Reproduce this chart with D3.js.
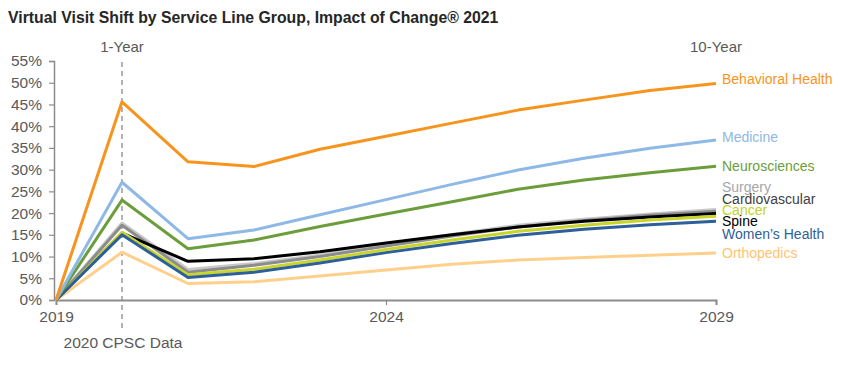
<!DOCTYPE html>
<html>
<head>
<meta charset="utf-8">
<script src="https://cdn.jsdelivr.net/npm/d3@7"></script>
<style>
  body { margin: 0; background: #fff; }
  text { font-family: "Liberation Sans", Arial, sans-serif; }
</style>
</head>
<body>
<svg id="chart"></svg>
<script>
var years = [2019, 2020, 2021, 2022, 2023, 2024, 2025, 2026, 2027, 2028, 2029];

var behavioral = [0, 45.6, 31.8, 30.7, 34.7, 37.7, 40.7, 43.7, 46.0, 48.2, 49.8];
var medicine   = [0, 27.1, 14.1, 16.1, 19.6, 23.1, 26.6, 29.9, 32.6, 34.9, 36.8];
var neuro      = [0, 23.0, 11.8, 13.8, 16.9, 19.8, 22.6, 25.5, 27.6, 29.3, 30.8];
var surgery    = [0, 17.7, 7.0, 8.4, 10.3, 12.8, 15.1, 17.2, 18.6, 19.8, 20.8];
var cardio     = [0, 17.2, 6.4, 8.0, 10.0, 12.4, 14.7, 16.8, 18.3, 19.5, 20.4];
var cancer     = [0, 15.6, 5.8, 7.1, 9.2, 11.6, 13.8, 15.8, 17.2, 18.4, 19.3];
var spine      = [0, 15.4, 8.9, 9.5, 11.1, 13.1, 15.0, 16.8, 18.1, 19.1, 19.9];
var womens     = [0, 15.0, 5.2, 6.4, 8.5, 10.9, 13.0, 14.9, 16.3, 17.3, 18.1];
var ortho      = [0, 11.0, 3.8, 4.2, 5.5, 6.9, 8.2, 9.2, 9.8, 10.3, 10.8];

var yTicks = [0, 5, 10, 15, 20, 25, 30, 35, 40, 45, 50, 55];
var xTicks = [2019, 2024, 2029];

// drawing order (bottom first)
var series = [
    { name: "Orthopedics",     values: ortho,      color: "#ffd08c", label: "#ffc374", nudge: 0 },
    { name: "Surgery",         values: surgery,    color: "#c8c8c8", label: "#a6a6a6", nudge: -23 },
    { name: "Cardiovascular",  values: cardio,     color: "#8c8c8c", label: "#404040", nudge: -12 },
    { name: "Spine",           values: spine,      color: "#000000", label: "#000000", nudge: 8 },
    { name: "Cancer",          values: cancer,     color: "#c9d52a", label: "#c4d31c", nudge: -6 },
    { name: "Women\u2019s Health", values: womens, color: "#2d5f9a", label: "#2d5f9a", nudge: 13 },
    { name: "Neurosciences",   values: neuro,      color: "#6b9e3a", label: "#6b9e3a", nudge: 0 },
    { name: "Medicine",        values: medicine,   color: "#8eb8e5", label: "#8eb8e5", nudge: -3 },
    { name: "Behavioral Health", values: behavioral, color: "#f7941d", label: "#f7941d", nudge: -4 }
];

var width = 867, height = 367;
var svg = d3.select('#chart')
    .attr('width', width)
    .attr('height', height);

var x = d3.scaleLinear().domain([2019, 2029]).range([56, 716]);
var y = d3.scaleLinear().domain([0, 55]).range([300, 61]);

svg.append('text')
    .attr('x', 8)
    .attr('y', 23)
    .attr('font-size', '15.8px')
    .attr('font-weight', 'bold')
    .attr('fill', '#262626')
    .text('Virtual Visit Shift by Service Line Group, Impact of Change\u00AE 2021');

// dashed 1-year marker
svg.append('line')
    .attr('x1', x(2020)).attr('x2', x(2020))
    .attr('y1', 62).attr('y2', 331)
    .attr('stroke', '#808080')
    .attr('stroke-width', 1.2)
    .attr('stroke-dasharray', '5,4');

svg.append('text')
    .attr('x', x(2020)).attr('y', 52)
    .attr('text-anchor', 'middle')
    .attr('font-size', '15px')
    .attr('fill', '#595959')
    .text('1-Year');

svg.append('text')
    .attr('x', x(2029)).attr('y', 52)
    .attr('text-anchor', 'middle')
    .attr('font-size', '15px')
    .attr('fill', '#595959')
    .text('10-Year');

svg.append('text')
    .attr('x', x(2020) + 1).attr('y', 348)
    .attr('text-anchor', 'middle')
    .attr('font-size', '15.5px')
    .attr('fill', '#595959')
    .text('2020 CPSC Data');

// axes
var yAxis = svg.append('g')
    .attr('transform', 'translate(' + (x(2019) - 2) + ',0)')
    .call(d3.axisLeft(y).tickValues(yTicks).tickSize(5).tickPadding(7).tickFormat(d => d + '%'));

var xAxis = svg.append('g')
    .attr('transform', 'translate(0,' + y(0) + ')')
    .call(d3.axisBottom(x).tickValues(xTicks).tickSize(5).tickPadding(6).tickFormat(d3.format('d')));

[yAxis, xAxis].forEach(g => {
    g.selectAll('path').attr('stroke', '#8c8c8c').attr('stroke-width', 1.5);
    g.selectAll('line').attr('stroke', '#8c8c8c').attr('stroke-width', 1.2);
    g.selectAll('text')
        .attr('font-size', '15.5px')
        .attr('font-family', '"Liberation Sans", Arial, sans-serif')
        .attr('fill', '#595959');
});
xAxis.select('path').attr('stroke-width', 2);

var line = d3.line()
    .x((d, i) => x(years[i]))
    .y(d => y(d));

svg.selectAll('path.series')
    .data(series)
    .enter()
    .append('path')
    .attr('class', 'series')
    .attr('d', d => line(d.values))
    .attr('fill', 'none')
    .attr('stroke', d => d.color)
    .attr('stroke-width', 3)
    .attr('stroke-linejoin', 'round');

svg.selectAll('text.label')
    .data(series)
    .enter()
    .append('text')
    .attr('class', 'label')
    .attr('x', x(2029) + 6)
    .attr('y', d => y(d.values[d.values.length - 1]) + d.nudge)
    .attr('dy', '0.35em')
    .attr('font-size', '14px')
    .attr('fill', d => d.label)
    .text(d => d.name);
</script>
</body>
</html>
